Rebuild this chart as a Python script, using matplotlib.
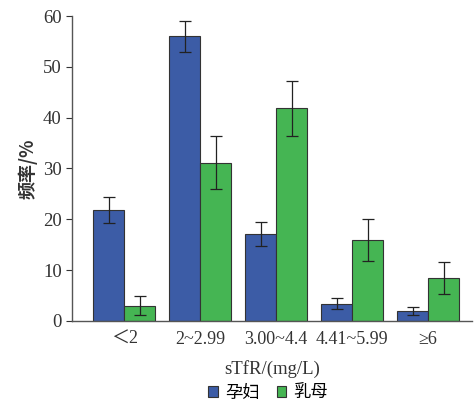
import numpy as np
import matplotlib
matplotlib.use("Agg")
import matplotlib.pyplot as plt

plt.rcParams['font.family'] = ['Liberation Serif', 'DejaVu Serif', 'Noto Sans CJK SC']

categories = ["＜2", "2~2.99", "3.00~4.4", "4.41~5.99", "≥6"]
series_names = ["孕妇", "乳母"]
pregnant = [21.8, 56.0, 17.1, 3.4, 1.9]
pregnant_err = [2.5, 3.0, 2.3, 1.1, 0.85]
lactating = [3.0, 31.1, 41.8, 15.9, 8.4]
lactating_err = [1.9, 5.2, 5.5, 4.1, 3.2]
colors = ["#3c5ca6", "#45b553"]

fig = plt.figure(figsize=(4.75, 4.01), dpi=100)
ax = fig.add_axes([0.152, 0.2, 0.842, 0.76])

x = np.arange(len(categories))
w = 0.408
err_kw = dict(ecolor="#222222", elinewidth=0.9, capsize=4, capthick=0.9)
ax.bar(x - w / 2, pregnant, w, yerr=pregnant_err, color=colors[0],
       edgecolor="#333333", linewidth=0.8, label=series_names[0], error_kw=err_kw)
ax.bar(x + w / 2, lactating, w, yerr=lactating_err, color=colors[1],
       edgecolor="#333333", linewidth=0.8, label=series_names[1], error_kw=err_kw)

ax.set_xlim(-0.684, 4.58)
ax.set_ylim(0, 60)
ax.set_yticks([0, 10, 20, 30, 40, 50, 60])
ax.set_xticks(x)
ax.set_xticklabels(categories)
ax.tick_params(axis='x', length=0, pad=7, labelsize=13, colors="#333333")
ax.tick_params(axis='y', length=4, direction='out', labelsize=13.5, colors="#333333")
for s in ["top", "right"]:
    ax.spines[s].set_visible(False)
for s in ["left", "bottom"]:
    ax.spines[s].set_color("#555555")
    ax.spines[s].set_linewidth(1.0)

ax.set_ylabel("频率/%", family=['Noto Sans CJK SC', 'DejaVu Sans'], fontsize=13,
              fontweight='bold', color="#333333", labelpad=4)
ax.set_xlabel("sTfR/(mg/L)", fontsize=13.5, color="#333333", labelpad=9)

leg = ax.legend(loc='center', bbox_to_anchor=(0.49, -0.236), ncol=2, frameon=False,
                handlelength=0.55, handleheight=0.55, handletextpad=0.4, columnspacing=1.0,
                borderpad=0.0, prop=dict(family=['Noto Sans CJK SC', 'DejaVu Sans'], size=12.5))
for p in leg.get_patches():
    p.set_edgecolor("#333333")

fig.savefig("out.png", dpi=100)
